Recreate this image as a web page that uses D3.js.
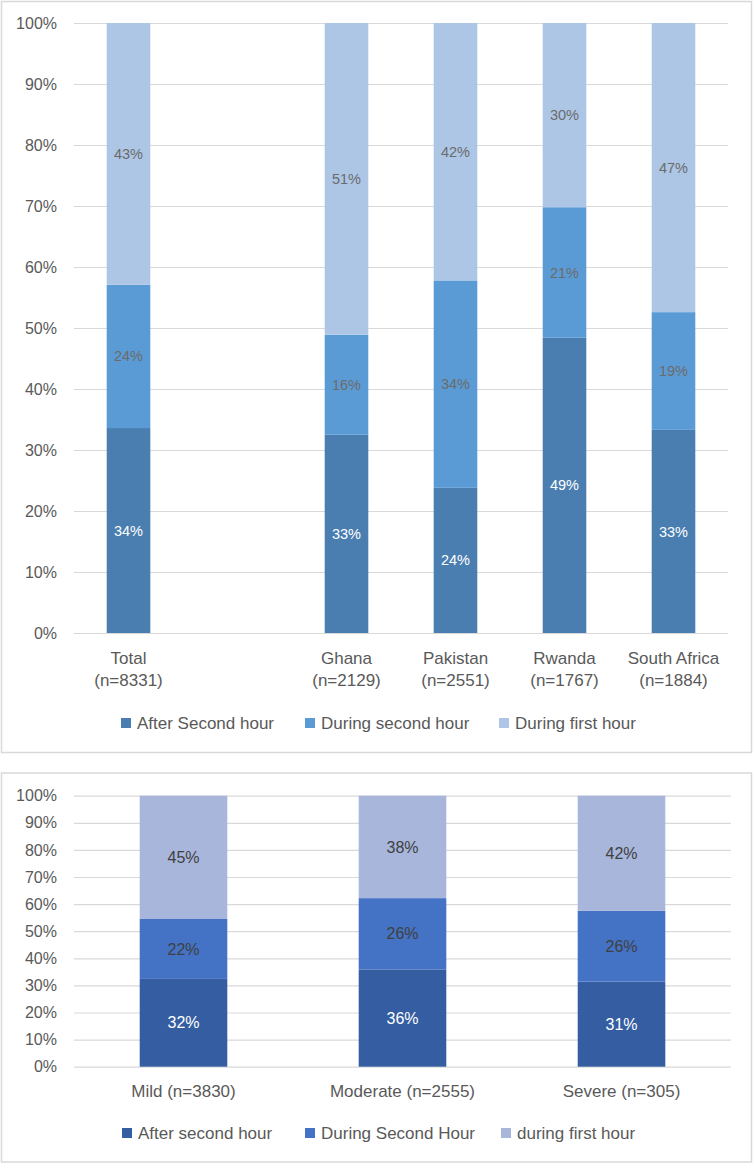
<!DOCTYPE html>
<html><head><meta charset="utf-8">
<script src="https://cdn.jsdelivr.net/npm/d3@7"></script>
<style>
body{margin:0;background:#fff;}
text{font-family:"Liberation Sans",Arial,sans-serif;}
</style></head>
<body><svg id="c" width="754" height="1164"></svg>
<script>
// ---- Top chart data ----
const topCategories = ["Total", "", "Ghana", "Pakistan", "Rwanda", "South Africa"];
const topSubLabels = ["(n=8331)", "", "(n=2129)", "(n=2551)", "(n=1767)", "(n=1884)"];
const topSeries = ["After Second hour", "During second hour", "During first hour"];
const topAfterSecond = [33.6, null, 32.5, 23.8, 48.4, 33.3];
const topDuringSecond = [23.5, null, 16.4, 34.0, 21.4, 19.3];
const topDuringFirst = [42.9, null, 51.1, 42.2, 30.2, 47.4];
const topLabels = [["34%","24%","43%"], null, ["33%","16%","51%"], ["24%","34%","42%"], ["49%","21%","30%"], ["33%","19%","47%"]];

// ---- Bottom chart data ----
const botCategories = ["Mild (n=3830)", "Moderate (n=2555)", "Severe (n=305)"];
const botSeries = ["After second hour", "During Second Hour", "during first hour"];
const botAfterSecond = [32.4, 35.9, 31.4];
const botDuringSecond = [22.1, 26.3, 26.1];
const botDuringFirst = [45.5, 37.8, 42.5];
const botLabels = [["32%","22%","45%"], ["36%","26%","38%"], ["31%","26%","42%"]];

const tickValues = [0,10,20,30,40,50,60,70,80,90,100];

const svg = d3.select("#c");
const fmt = d => d + "%";

function drawChart(cfg) {
  const g = svg.append("g");
  // border
  g.append("rect").attr("x", cfg.box[0]).attr("y", cfg.box[1])
    .attr("width", cfg.box[2]).attr("height", cfg.box[3])
    .attr("fill", "#fff").attr("stroke", "#d9d9d9").attr("stroke-width", 1.5);

  const x = d3.scaleBand().domain(cfg.categories.map((c, i) => i))
    .range([cfg.plot.x0, cfg.plot.x1]).paddingInner(0.6).paddingOuter(0.3);
  const y = d3.scaleLinear().domain([0, 100]).range([cfg.plot.y0, cfg.plot.y1]);

  // y axis with gridlines
  const ax = g.append("g").attr("transform", `translate(${cfg.plot.x0},0)`)
    .call(d3.axisLeft(y).tickValues(tickValues).tickFormat(fmt)
      .tickSize(-(cfg.plot.x1 - cfg.plot.x0)).tickPadding(17));
  ax.select(".domain").remove();
  ax.selectAll("line").attr("stroke", "#d9d9d9").attr("stroke-width", 1.2);
  ax.selectAll("text").attr("fill", "#595959").style("font-size", cfg.tickFont + "px")
    .style("font-family", '"Liberation Sans",Arial,sans-serif');

  const stackData = cfg.categories.map((c, i) => ({
    i, a: cfg.s[0][i], b: cfg.s[1][i], c: cfg.s[2][i]
  })).filter(d => d.a != null);
  const stack = d3.stack().keys(["a", "b", "c"])(stackData);

  stack.forEach((layer, li) => {
    g.append("g").selectAll("rect").data(layer).join("rect")
      .attr("x", d => x(d.data.i))
      .attr("width", x.bandwidth())
      .attr("y", d => y(d[1]))
      .attr("height", d => y(d[0]) - y(d[1]))
      .attr("fill", cfg.colors[li]);
    g.append("g").selectAll("text").data(layer).join("text")
      .attr("x", d => x(d.data.i) + x.bandwidth() / 2)
      .attr("y", d => (y(d[0]) + y(d[1])) / 2)
      .attr("dy", "0.35em")
      .attr("text-anchor", "middle")
      .attr("fill", cfg.labelColors[li])
      .style("font-size", cfg.labelFont + "px")
      .text(d => cfg.labels[d.data.i][li]);
  });

  // x labels
  cfg.categories.forEach((c, i) => {
    const cx = x(i) + x.bandwidth() / 2;
    g.append("text").attr("x", cx).attr("y", cfg.xLabelY).attr("dy", "0.35em")
      .attr("text-anchor", "middle").attr("fill", "#595959")
      .style("font-size", cfg.xFont + "px").text(c);
    if (cfg.sub && cfg.sub[i]) {
      g.append("text").attr("x", cx).attr("y", cfg.xLabelY + 22).attr("dy", "0.35em")
        .attr("text-anchor", "middle").attr("fill", "#595959")
        .style("font-size", cfg.xFont + "px").text(cfg.sub[i]);
    }
  });

  // legend
  cfg.series.forEach((s, i) => {
    const lx = cfg.legendX[i];
    g.append("rect").attr("x", lx).attr("y", cfg.legendY - 5).attr("width", 10).attr("height", 10)
      .attr("fill", cfg.colors[i]);
    g.append("text").attr("x", lx + 16).attr("y", cfg.legendY).attr("dy", "0.35em")
      .attr("fill", "#595959").style("font-size", cfg.legendFont + "px").text(s);
  });
}

drawChart({
  box: [1.5, 1.5, 750, 751],
  plot: { x0: 74, x1: 728, y0: 633, y1: 23 },
  categories: topCategories, sub: topSubLabels, series: topSeries,
  s: [topAfterSecond, topDuringSecond, topDuringFirst],
  labels: topLabels,
  colors: ["#4a7eb0", "#5b9bd5", "#adc6e6"],
  labelColors: ["#ffffff", "#6b6b6b", "#6b6b6b"],
  tickFont: 16, labelFont: 14.5, xFont: 17, legendFont: 17,
  xLabelY: 658, legendY: 723, legendX: [121, 305, 499]
});

drawChart({
  box: [1.5, 773, 750, 389],
  plot: { x0: 74, x1: 731, y0: 1066.7, y1: 795.7 },
  categories: botCategories, sub: null, series: botSeries,
  s: [botAfterSecond, botDuringSecond, botDuringFirst],
  labels: botLabels,
  colors: ["#345ea1", "#4472c4", "#a9b6dc"],
  labelColors: ["#ffffff", "#404040", "#404040"],
  tickFont: 16, labelFont: 16, xFont: 17, legendFont: 17,
  xLabelY: 1091, legendY: 1133, legendX: [122, 305, 501]
});
</script>
</body></html>
